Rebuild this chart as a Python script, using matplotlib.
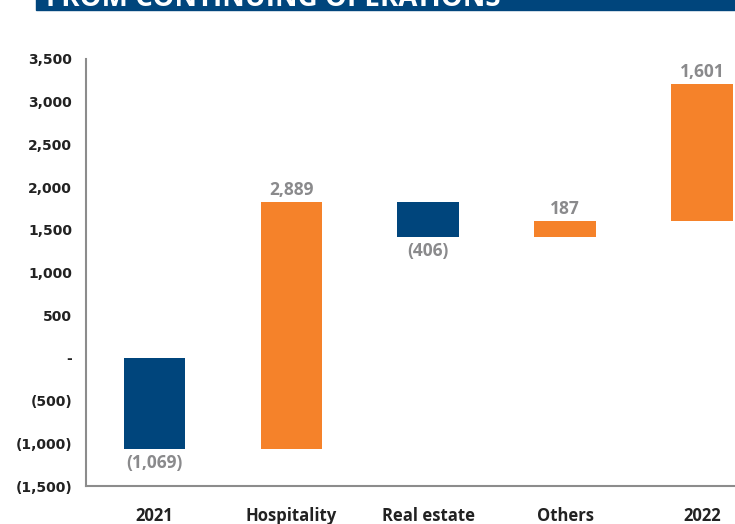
import matplotlib
matplotlib.use("Agg")
import matplotlib.pyplot as plt
from matplotlib.patches import Rectangle
import numpy as num

categories = ["2021", "Hospitality", "Real estate", "Others", "2022"]
changes = [-1069, 2889, -406, 187, 1601]
valueLabels = ["(1,069)", "2,889", "(406)", "187", "1,601"]
yTicks = [-1500, -1000, -500, 0, 500, 1000, 1500, 2000, 2500, 3000, 3500]
yTickLabels = ["(1,500)", "(1,000)", "(500)", "-", "500", "1,000", "1,500",
               "2,000", "2,500", "3,000", "3,500"]
title = "FROM CONTINUING OPERATIONS"

navy = "#00457C"
orange = "#F5822A"
grey = "#8A8A8C"

# bars float on the running total, the last one too (as in the original)
bottoms = []
heights = []
running = 0
for i, v in enumerate(changes):
    if i == len(changes) - 1:
        bottoms.append(running)
        heights.append(v)
    elif v < 0:
        bottoms.append(running + v)
        heights.append(-v)
        running = running + v
    else:
        bottoms.append(running)
        heights.append(v)
        running = running + v
colors = [navy, orange, navy, orange, orange]

fig = plt.figure(figsize=(7.35, 5.24), dpi=100)
ax = fig.add_axes([86 / 735, 1 - 486 / 524, 1 - 86 / 735, (486 - 59) / 524])

ind = num.arange(len(categories))
width = 0.45
ax.bar(ind, heights, width, bottom=bottoms, color=colors)

for i in range(len(categories)):
    if changes[i] < 0:
        ax.text(ind[i], bottoms[i] - 60, valueLabels[i], ha="center", va="top",
                fontsize=12.5, fontweight="bold", color=grey, family="Open Sans")
    else:
        ax.text(ind[i], bottoms[i] + heights[i] + 40, valueLabels[i], ha="center", va="bottom",
                fontsize=12.5, fontweight="bold", color=grey, family="Open Sans")

ax.set_xlim(-0.5, 4.24)
ax.set_ylim(-1500, 3500)
ax.set_yticks(yTicks)
ax.set_yticklabels(yTickLabels, fontsize=10, fontweight="bold", color="#222222", family="DejaVu Sans")
ax.set_xticks(ind)
ax.set_xticklabels(categories, fontsize=12, fontweight="bold", color="#222222", family="Open Sans")
ax.tick_params(axis="both", length=0)
ax.tick_params(axis="y", pad=10)
ax.tick_params(axis="x", pad=15)

for s in ["top", "right"]:
    ax.spines[s].set_visible(False)
for s in ["left", "bottom"]:
    ax.spines[s].set_color("#8C8C8C")
    ax.spines[s].set_linewidth(1.5)

# title banner, cut by the top edge
fig.patches.append(Rectangle((36 / 735, 1 - 10 / 524), 1, 0.1, transform=fig.transFigure,
                             color="#00457C", zorder=0))
fig.text(46 / 735, 1 - 6 / 524, title, ha="left", va="baseline", fontsize=20,
         fontweight="bold", color="white", family="Open Sans")

plt.savefig("out.png", dpi=100)
plt.close()
